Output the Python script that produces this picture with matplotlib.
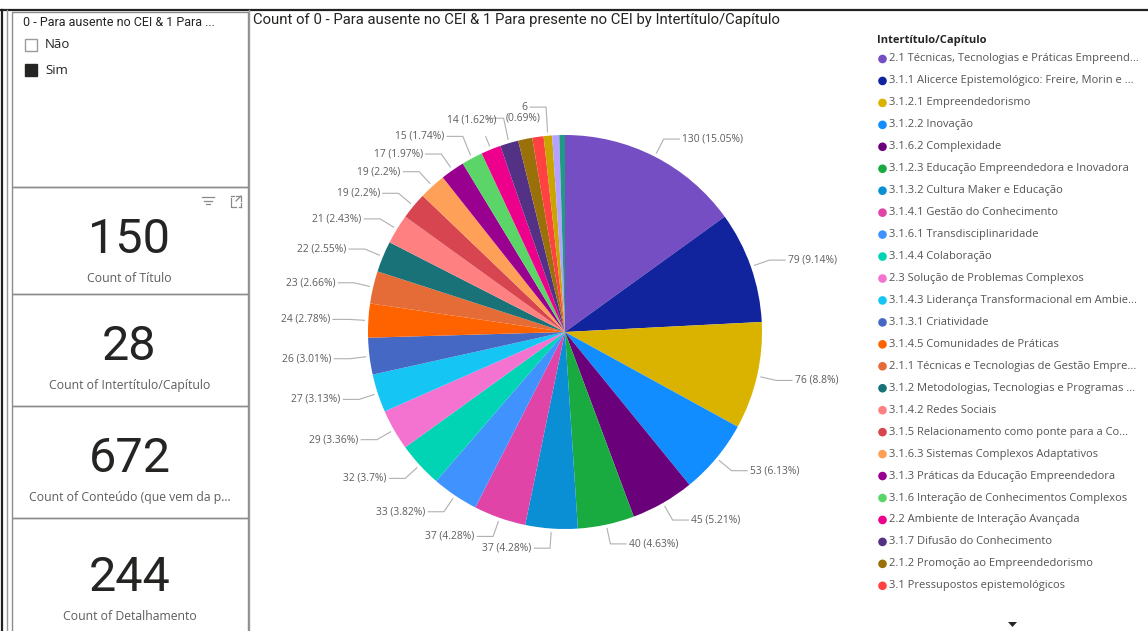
import decimal

import numpy as np
import matplotlib
matplotlib.use('Agg')
import matplotlib.pyplot as plt
from matplotlib.patches import Rectangle, Circle, Polygon

W, H = 1148, 631

categorias = [
    '2.1 Técnicas, Tecnologias e Práticas Empreend...',
    '3.1.1 Alicerce Epistemológico: Freire, Morin e ...',
    '3.1.2.1 Empreendedorismo',
    '3.1.2.2 Inovação',
    '3.1.6.2 Complexidade',
    '3.1.2.3 Educação Empreendedora e Inovadora',
    '3.1.3.2 Cultura Maker e Educação',
    '3.1.4.1 Gestão do Conhecimento',
    '3.1.6.1 Transdisciplinaridade',
    '3.1.4.4 Colaboração',
    '2.3 Solução de Problemas Complexos',
    '3.1.4.3 Liderança Transformacional em Ambie...',
    '3.1.3.1 Criatividade',
    '3.1.4.5 Comunidades de Práticas',
    '2.1.1 Técnicas e Tecnologias de Gestão Empre...',
    '3.1.2 Metodologias, Tecnologias e Programas ...',
    '3.1.4.2 Redes Sociais',
    '3.1.5 Relacionamento como ponte para a Co...',
    '3.1.6.3 Sistemas Complexos Adaptativos',
    '3.1.3 Práticas da Educação Empreendedora',
    '3.1.6 Interação de Conhecimentos Complexos',
    '2.2 Ambiente de Interação Avançada',
    '3.1.7 Difusão do Conhecimento',
    '2.1.2 Promoção ao Empreendedorismo',
    '3.1 Pressupostos epistemológicos',
    '(oculto 26)',
    '(oculto 27)',
    '(oculto 28)',
]
valores = [130, 79, 76, 53, 45, 40, 37, 37, 33, 32, 29, 27, 26, 24, 23, 22,
           21, 19, 19, 17, 15, 14, 13, 10, 8, 6, 5, 4]
cores = ['#744EC2', '#12239E', '#D9B300', '#118DFF', '#6B007B', '#1AAB40',
         '#0B8FD4', '#E044A7', '#4092FF', '#00D4B4', '#F472D0', '#15C6F4',
         '#4668C5', '#FF6300', '#E66C37', '#197278', '#FF8080', '#D64550',
         '#FFA058', '#990090', '#5CD568', '#EC008C', '#533285', '#99700A',
         '#FF4141', '#C9A500', '#B5A1FF', '#1F9A85']
n_legenda = 25

cartoes_valor = ['150', '28', '672', '244']
cartoes_rotulo = ['Count of Título', 'Count of Intertítulo/Capítulo',
                  'Count of Conteúdo (que vem da p...', 'Count of Detalhamento']
slicer_titulo = '0 - Para ausente no CEI & 1 Para ...'
slicer_opcoes = ['Não', 'Sim']
titulo = 'Count of 0 - Para ausente no CEI & 1 Para presente no CEI by Intertítulo/Capítulo'
titulo_legenda = 'Intertítulo/Capítulo'

TXT = '#252423'
CINZA = '#605E5C'
BORDA = '#8c8c8c'
LIDER = '#b0b0b0'

total = sum(valores)


def pct(v):
    q = (decimal.Decimal(v * 100) / decimal.Decimal(total)).quantize(
        decimal.Decimal('0.01'), rounding=decimal.ROUND_HALF_UP)
    return '{:f}'.format(q.normalize())


rotulos = ['%d (%s%%)' % (v, pct(v)) for v in valores]
# rotulos sobrepostos / cortados como aparecem no painel
rotulos[22] = '(%s%%)' % pct(valores[25])
rotulos[23] = None
rotulos[24] = None
rotulos[25] = '%d' % valores[25]
rotulos[26] = None
rotulos[27] = None
desloc_y = {20: 4.5, 21: 11, 22: 6, 25: 9}

fig = plt.figure(figsize=(W / 100, H / 100), dpi=100)
bg = fig.add_axes([0, 0, 1, 1])
bg.set_xlim(0, W)
bg.set_ylim(H, 0)
bg.axis('off')

# molduras
bg.plot([0, W], [10, 10], color='#222222', lw=1.6)
bg.plot([1.5, 1.5], [10, H], color='#222222', lw=1.6)
bg.plot([7, 7], [10, H], color='#9a9a9a', lw=1.0)
bg.plot([248.5, 248.5], [10, H], color='#9a9a9a', lw=1.0)
bg.add_patch(Rectangle((11.5, 12), 236, 175, fill=False, ec=BORDA, lw=1.0))
limites = [187, 294, 406, 518, 640]
for k in range(4):
    bg.add_patch(Rectangle((11.5, limites[k]), 236, limites[k + 1] - limites[k],
                           fill=False, ec=BORDA, lw=1.0))

# slicer
bg.text(23, 22, slicer_titulo, fontsize=9, family='Roboto', color=TXT, va='center')
for k, op in enumerate(slicer_opcoes):
    yc = 45 + 25 * k
    bg.add_patch(Rectangle((24.5, yc - 6.5), 12, 12,
                           fc='white' if k == 0 else '#252423',
                           ec='#9a9a9a' if k == 0 else '#252423', lw=1.0))
    bg.text(45, yc, op, fontsize=9.5, family='Open Sans', color=TXT, va='center')

# cartoes
for k in range(4):
    y0 = limites[k]
    num_y = y0 + 53 if k < 3 else y0 + 60
    bg.text(129.5, num_y, cartoes_valor[k], fontsize=35, family='Roboto',
            color=TXT, ha='center', va='center')
    bg.text(129.5, num_y + 38, cartoes_rotulo[k], fontsize=8.8, family='Open Sans',
            color=CINZA, ha='center', va='center')

# icones do primeiro cartao
for j, larg in enumerate([12, 8, 4]):
    bg.plot([208 - larg / 2, 208 + larg / 2], [197 + 3.5 * j] * 2, color='#8a8a8a', lw=0.9)
bg.plot([231, 231, 236], [198, 207, 207], color='#8a8a8a', lw=0.9)
bg.plot([239, 241], [207, 207], color='#8a8a8a', lw=0.9)
bg.plot([241, 241], [203, 207], color='#8a8a8a', lw=0.9)
bg.plot([231, 234], [196, 196], color='#8a8a8a', lw=0.9)
bg.plot([236, 241, 241], [196, 196, 201], color='#8a8a8a', lw=0.9)
bg.plot([236, 241], [201, 196], color='#8a8a8a', lw=0.9)

# titulo do grafico
bg.text(253, 20, titulo, fontsize=10.7, family='Roboto', color=TXT, va='center')

# legenda
bg.text(877, 40, titulo_legenda, fontsize=8, family='Open Sans', weight='bold',
        color=TXT, va='center')
for k in range(n_legenda):
    yc = 59 + 21.95 * k
    bg.add_patch(Circle((882.5, yc), 4.3, color=cores[k], lw=0))
    bg.text(889, yc, categorias[k], fontsize=8, family='Open Sans', color='#555453',
            va='center')
bg.add_patch(Polygon([[1008, 622], [1017, 622], [1012.5, 627]], closed=True,
                     color='#252423', lw=0))

# pizza
R = 197
meio = 330
cx, cy = 565, 332
ax = fig.add_axes([(cx - meio) / W, (H - cy - meio) / H, 2 * meio / W, 2 * meio / H])
wedges, _ = ax.pie(valores, colors=cores, startangle=90, counterclock=False,
                   radius=1.0, wedgeprops=dict(linewidth=0))
ax.set_xlim(-meio / R, meio / R)
ax.set_ylim(-meio / R, meio / R)
ax.set_aspect('auto')
ax.axis('off')

estilo = dict(va='center', fontsize=7.4, family='Open Sans', color=CINZA, clip_on=False)
for i, w in enumerate(wedges):
    txt = rotulos[i]
    if txt is None:
        continue
    ang = np.deg2rad((w.theta1 + w.theta2) / 2)
    c, s = np.cos(ang), np.sin(ang)
    lado = 1 if c >= 0 else -1
    x0, y0 = 1.02 * c, 1.02 * s
    x1 = 1.1 * c
    y1 = 1.1 * s + desloc_y.get(i, 0) / R
    x2 = x1 + lado * 0.08
    if i == 21:
        # rotulo empurrado para a direita, encostado no seguinte
        ax.plot([x0, 1.07 * c], [y0, 1.07 * s], color=LIDER, lw=0.8, clip_on=False)
        ax.text(x2 - 0.015 + 32 / R, y1, txt, ha='right', **estilo)
        continue
    ax.plot([x0, x1, x2], [y0, y1, y1], color=LIDER, lw=0.8, clip_on=False)
    if i == 22:
        ax.text(x1 + 2 / R, y1, txt, ha='left', **estilo)
        continue
    ax.text(x2 + lado * 0.015, y1, txt, ha='left' if lado > 0 else 'right', **estilo)

fig.savefig('out.png', dpi=100)
